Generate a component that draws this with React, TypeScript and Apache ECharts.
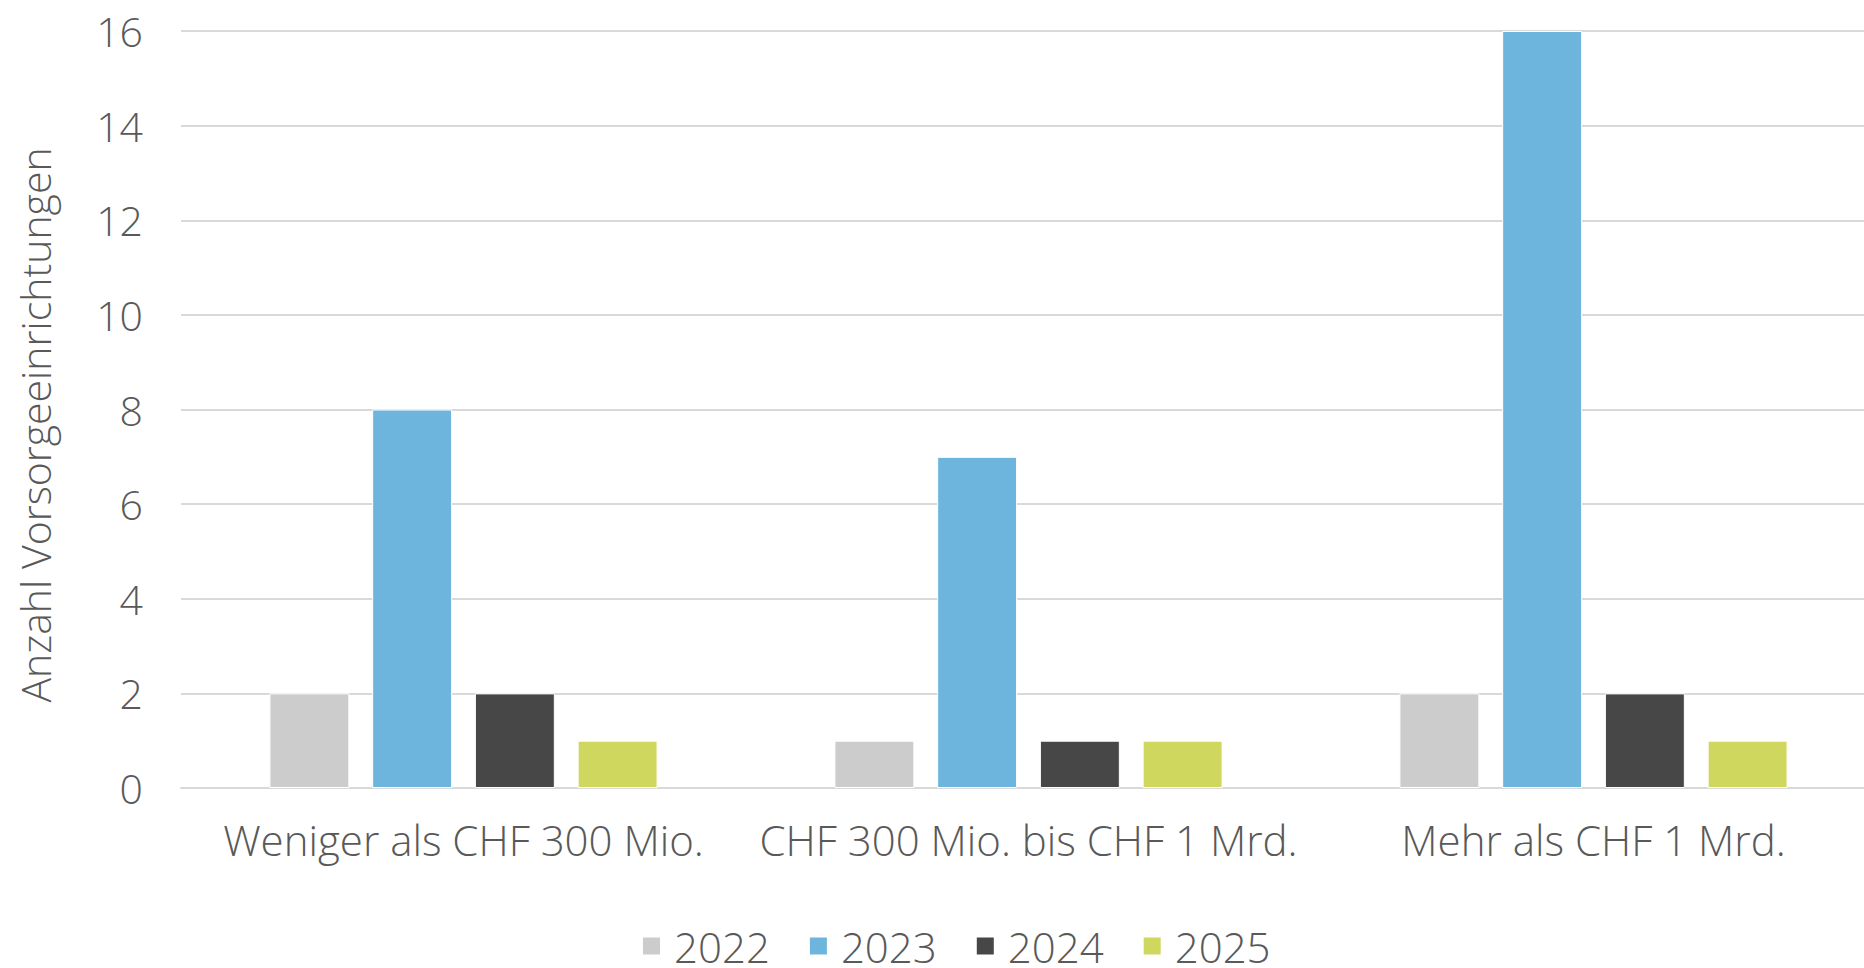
import React, { useEffect, useRef } from "react";
import * as echarts from "echarts";

const categories = ["Weniger als CHF 300 Mio.", "CHF 300 Mio. bis CHF 1 Mrd.", "Mehr als CHF 1 Mrd."];
const seriesNames = ["2022", "2023", "2024", "2025"];
const values2022 = [2, 1, 2];
const values2023 = [8, 7, 16];
const values2024 = [2, 1, 2];
const values2025 = [1, 1, 1];
const seriesColors = ["#CCCCCC", "#6EB5DD", "#474747", "#CFD75F"];
const yTicks = { min: 0, max: 16, interval: 2 };
const yTitle = "Anzahl Vorsorgeeinrichtungen";

const FONT = "'Open Sans', sans-serif";
const TEXT = "#595959";
const FS = 41;

export default function App() {
  const ref = useRef<HTMLDivElement>(null);
  useEffect(() => {
    if (!ref.current) return;
    const chart = echarts.init(ref.current, undefined, { renderer: "svg" });
    const allValues = [values2022, values2023, values2024, values2025];
    chart.setOption({
      animation: false,
      backgroundColor: "#ffffff",
      textStyle: { fontFamily: FONT, color: TEXT },
      grid: {
        left: 181,
        width: 1695,
        top: 31,
        bottom: 968 - 788,
        containLabel: false,
        outerBoundsMode: "none",
      },
      legend: {
        left: 641,
        top: 925,
        padding: 0,
        itemWidth: 19,
        itemHeight: 19,
        itemGap: 38,
        icon: "rect",
        textStyle: {
          fontSize: 42,
          fontWeight: 300,
          color: TEXT,
          fontFamily: FONT,
          padding: [0, 0, 0, 8],
        },
        data: seriesNames,
      },
      xAxis: {
        type: "category",
        data: categories,
        axisTick: { show: false },
        axisLine: { lineStyle: { color: "#D9D9D9", width: 2 } },
        axisLabel: { interval: 0, fontSize: 42, fontWeight: 300, color: TEXT, fontFamily: FONT, margin: 30 },
      },
      yAxis: {
        type: "value",
        min: yTicks.min,
        max: yTicks.max,
        interval: yTicks.interval,
        axisLine: { show: false },
        axisTick: { show: false },
        splitLine: { lineStyle: { color: "#D9D9D9", width: 2 } },
        axisLabel: { fontSize: FS, fontWeight: 300, color: TEXT, fontFamily: FONT, margin: 38 },
      },
      graphic: [
        {
          type: "text",
          x: 35,
          y: 425,
          rotation: Math.PI / 2,
          style: {
            text: yTitle,
            fontSize: FS,
            fontWeight: 300,
            fontFamily: FONT,
            fill: TEXT,
            align: "center",
            verticalAlign: "middle",
          },
        },
      ],
      series: seriesNames.map((name, i) => ({
        name,
        type: "bar",
        data: allValues[i],
        barGap: "28.5%",
        barCategoryGap: "31.3%",
        itemStyle: { color: seriesColors[i], borderColor: "#ffffff", borderWidth: 1 },
      })),
    });
    return () => chart.dispose();
  }, []);
  return <div ref={ref} style={{ position: "fixed", left: 0, top: 0, width: 1864, height: 968 }} />;
}
